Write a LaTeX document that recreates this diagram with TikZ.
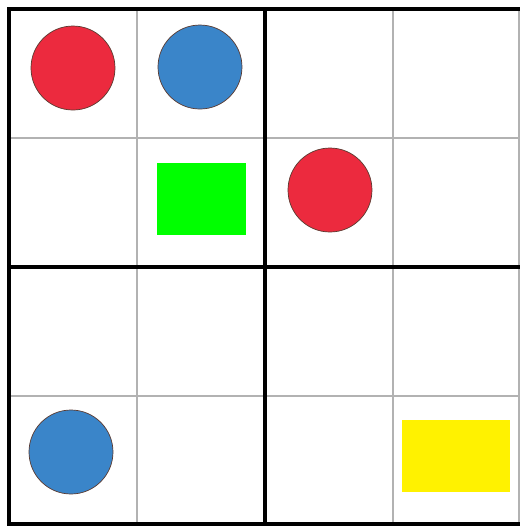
\documentclass[tikz,border=0pt]{standalone}
\usepackage{xcolor}

\definecolor{dotred}{HTML}{EC2A3E}
\definecolor{dotblue}{HTML}{3A85C9}
\definecolor{rim}{HTML}{5A3A30}

\begin{document}
\begin{tikzpicture}[x=0.01cm, y=-0.01cm]
    % --- 0. PAGE SIZE ---
    \useasboundingbox (0,0) rectangle (520,526);
    \clip (0,0) rectangle (520,526);

    % --- 1. THIN GRID LINES ---
    % Cell borders inside each 2x2 block
    \begin{scope}[draw=black!30, line width=0.6pt]
        \foreach \x in {137, 393} {
            \draw (\x, 9) -- (\x, 524);
        }
        \foreach \y in {138, 396} {
            \draw (9, \y) -- (520, \y);
        }
        % right border is cut off, only a faint edge shows
        \draw (519, 9) -- (519, 524);
    \end{scope}

    % --- 2. THICK BLOCK LINES ---
    \begin{scope}[draw=black, line width=0.9pt]
        \draw (265, 9) -- (265, 524);
        \draw (9, 267) -- (520, 267);
        \draw (520, 9) -- (9, 9) -- (9, 524) -- (520, 524);
    \end{scope}

    % --- 3. COUNTERS ---
    % Painted discs, thin dark rim
    \foreach \cx/\cy/\col in {73/68/dotred, 200/67/dotblue, 330/190/dotred, 71/452/dotblue} {
        \fill[\col, draw=rim, line width=0.2pt] (\cx, \cy) circle (42);
    }

    % Square markers
    \fill[green] (157, 163) rectangle (246, 235);
    \fill[yellow] (402, 420) rectangle (510, 492);

\end{tikzpicture}
\end{document}
